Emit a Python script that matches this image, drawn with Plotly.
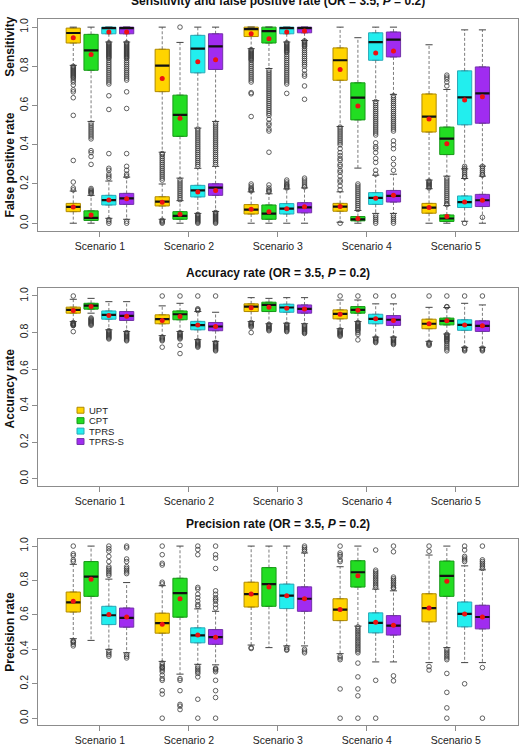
import plotly.graph_objects as go

W, H = 526, 746
FONT = "Liberation Sans, Arial, Helvetica, sans-serif"

methods = ["UPT", "CPT", "TPRS", "TPRS-S"]
scenarios = ["Scenario 1", "Scenario 2", "Scenario 3", "Scenario 4", "Scenario 5"]
fills = ["#FFD400", "#22DD22", "#22EEEE", "#A02CF0"]
borders = ["#B08A00", "#179A17", "#2AAAB8", "#7432AA"]

# ---------------- Sensitivity (rows = methods, cols = scenarios) ----------------
sens_q1 = [[0.919, 0.671, 0.952, 0.729, 0.465], [0.780, 0.443, 0.919, 0.527, 0.350],
           [0.966, 0.767, 0.966, 0.831, 0.502], [0.966, 0.784, 0.971, 0.848, 0.510]]
sens_med = [[0.970, 0.804, 0.990, 0.831, 0.544], [0.881, 0.552, 0.980, 0.640, 0.431],
            [0.995, 0.890, 0.995, 0.924, 0.642], [0.995, 0.902, 0.995, 0.936, 0.662]]
sens_q3 = [[0.995, 0.887, 1.0, 0.894, 0.659], [0.963, 0.653, 1.0, 0.716, 0.490],
           [1.0, 0.958, 1.0, 0.971, 0.777], [1.0, 0.966, 1.0, 0.975, 0.797]]
sens_lo = [[0.805, 0.362, 0.890, 0.493, 0.220], [0.519, 0.230, 0.789, 0.281, 0.240],
           [0.924, 0.485, 0.924, 0.625, 0.277], [0.924, 0.519, 0.932, 0.657, 0.291]]
sens_hi = [[1.0, 1.0, 1.0, 1.0, 0.910], [1.0, 0.922, 1.0, 0.946, 0.682],
           [1.0, 1.0, 1.0, 1.0, 0.986], [1.0, 1.0, 1.0, 1.0, 0.986]]
sens_mean = [[0.946, 0.738, 0.966, 0.784, 0.532], [0.860, 0.535, 0.941, 0.598, 0.405],
             [0.975, 0.823, 0.975, 0.868, 0.628], [0.975, 0.834, 0.980, 0.878, 0.645]]
sens_out = [
    [[0.80, 0.795, 0.79, 0.785, 0.78, 0.775, 0.77, 0.765, 0.76, 0.755, 0.75, 0.745, 0.74, 0.73, 0.72, 0.705, 0.68, 0.67, 0.64, 0.55, 0.32],
     [0.355, 0.35, 0.34, 0.33, 0.32, 0.31, 0.30, 0.29, 0.28, 0.27, 0.26, 0.25, 0.24, 0.23, 0.22],
     [0.885, 0.88, 0.875, 0.87, 0.865, 0.86, 0.855, 0.85, 0.845, 0.84, 0.835, 0.83, 0.82, 0.81, 0.80, 0.79, 0.78, 0.77, 0.76, 0.75, 0.74, 0.73, 0.72, 0.666, 0.66, 0.544],
     [0.49, 0.48, 0.47, 0.46, 0.45, 0.44, 0.43, 0.42, 0.41, 0.40, 0.38, 0.36, 0.345, 0.33, 0.32, 0.30, 0.29, 0.27, 0.26, 0.24, 0.22, 0.21, 0.19, 0.17],
     []],
    [[0.51, 0.50, 0.49, 0.48, 0.47, 0.46, 0.45, 0.44, 0.43, 0.37, 0.36, 0.34, 0.30],
     [1.0],
     [0.78, 0.77, 0.76, 0.75, 0.74, 0.73, 0.72, 0.71, 0.70, 0.69, 0.68, 0.67, 0.66, 0.65, 0.64, 0.63, 0.62, 0.61, 0.60, 0.59, 0.58, 0.57, 0.56, 0.55, 0.53, 0.51, 0.50, 0.48, 0.47, 0.362],
     [],
     [0.70, 0.72, 0.735, 0.745, 0.755]],
    [[0.92, 0.915, 0.91, 0.905, 0.90, 0.895, 0.89, 0.885, 0.88, 0.875, 0.87, 0.865, 0.86, 0.855, 0.85, 0.845, 0.84, 0.83, 0.82, 0.81, 0.80, 0.79, 0.78, 0.77, 0.76, 0.75, 0.74, 0.73, 0.72, 0.71, 0.65, 0.58],
     [0.48, 0.47, 0.46, 0.45, 0.44, 0.43, 0.42, 0.41, 0.40, 0.39, 0.38, 0.37, 0.36, 0.35, 0.34, 0.33, 0.32, 0.31, 0.30, 0.29],
     [0.92, 0.915, 0.91, 0.905, 0.90, 0.895, 0.89, 0.885, 0.88, 0.875, 0.87, 0.86, 0.85, 0.84, 0.83, 0.82, 0.81, 0.80, 0.79, 0.78, 0.77, 0.76, 0.75, 0.74, 0.73, 0.72, 0.71, 0.662],
     [0.62, 0.61, 0.60, 0.59, 0.58, 0.57, 0.56, 0.55, 0.54, 0.53, 0.52, 0.51, 0.50, 0.49, 0.48, 0.47, 0.46, 0.45, 0.41, 0.39, 0.38, 0.36, 0.33, 0.31, 0.27, 0.25],
     []],
    [[0.92, 0.915, 0.91, 0.905, 0.90, 0.895, 0.89, 0.885, 0.88, 0.875, 0.87, 0.865, 0.86, 0.855, 0.85, 0.845, 0.84, 0.83, 0.82, 0.81, 0.80, 0.79, 0.78, 0.77, 0.76, 0.75, 0.74, 0.73, 0.67, 0.585],
     [0.51, 0.50, 0.49, 0.48, 0.47, 0.46, 0.45, 0.44, 0.43, 0.42, 0.41, 0.40, 0.39, 0.38, 0.37, 0.36, 0.35, 0.34, 0.33, 0.32, 0.31, 0.30],
     [0.93, 0.925, 0.92, 0.915, 0.91, 0.905, 0.90, 0.89, 0.88, 0.87, 0.86, 0.85, 0.84, 0.83, 0.82, 0.81, 0.80, 0.78, 0.76, 0.75, 0.70, 0.632],
     [0.65, 0.64, 0.63, 0.62, 0.61, 0.60, 0.59, 0.58, 0.57, 0.56, 0.55, 0.54, 0.53, 0.52, 0.51, 0.50, 0.49, 0.48, 0.47, 0.42, 0.40, 0.38, 0.33, 0.30, 0.27],
     []],
]

# ---------------- False positive rate ----------------
fpr_q1 = [[0.059, 0.088, 0.047, 0.061, 0.051], [0.014, 0.020, 0.020, 0.012, 0.009],
          [0.093, 0.134, 0.047, 0.096, 0.080], [0.096, 0.142, 0.053, 0.108, 0.085]]
fpr_med = [[0.083, 0.110, 0.069, 0.085, 0.080], [0.027, 0.037, 0.049, 0.020, 0.024],
           [0.118, 0.167, 0.074, 0.129, 0.108], [0.127, 0.181, 0.081, 0.139, 0.117]]
fpr_q3 = [[0.101, 0.135, 0.095, 0.101, 0.101], [0.063, 0.059, 0.093, 0.034, 0.042],
          [0.142, 0.193, 0.100, 0.156, 0.139], [0.152, 0.201, 0.105, 0.167, 0.147]]
fpr_lo = [[0.0, 0.020, 0.0, 0.005, 0.0], [0.0, 0.0, 0.0, 0.0, 0.0],
          [0.025, 0.050, 0.0, 0.050, 0.010], [0.020, 0.060, 0.0, 0.050, 0.0]]
fpr_hi = [[0.164, 0.200, 0.160, 0.160, 0.176], [0.142, 0.115, 0.150, 0.065, 0.090],
          [0.215, 0.280, 0.175, 0.245, 0.228], [0.235, 0.290, 0.180, 0.250, 0.240]]
fpr_mean = [[0.083, 0.107, 0.071, 0.085, 0.080], [0.042, 0.046, 0.059, 0.024, 0.034],
            [0.118, 0.159, 0.074, 0.127, 0.108], [0.125, 0.167, 0.084, 0.142, 0.117]]
fpr_out = [
    [[0.17, 0.18, 0.21], [0.0, 0.005, 0.01, 0.015], [0.165, 0.17, 0.175, 0.18, 0.19, 0.20], [0.0],
     [0.18, 0.185, 0.19, 0.195, 0.20, 0.205, 0.21, 0.215]],
    [[0.15, 0.155, 0.16, 0.165, 0.17, 0.177],
     [0.12, 0.13, 0.14, 0.15, 0.16, 0.17, 0.18, 0.19, 0.20, 0.21, 0.22],
     [0.16, 0.165, 0.17, 0.18, 0.195],
     [0.07, 0.08, 0.09, 0.10, 0.11, 0.12, 0.13, 0.14, 0.15, 0.16, 0.17, 0.18, 0.19, 0.20],
     [0.095, 0.10, 0.11, 0.12, 0.13, 0.14, 0.15, 0.16, 0.17, 0.18, 0.19, 0.20, 0.21, 0.22, 0.23]],
    [[0.0, 0.01, 0.018, 0.23, 0.24, 0.25, 0.27, 0.28, 0.355],
     [0.0, 0.005, 0.01, 0.015, 0.02, 0.025, 0.03, 0.035, 0.04, 0.045],
     [0.18, 0.185, 0.19, 0.195, 0.20, 0.21, 0.22],
     [0.0, 0.01, 0.02, 0.03, 0.04],
     [0.0, 0.235, 0.24, 0.25, 0.26, 0.27, 0.28, 0.29]],
    [[0.0, 0.01, 0.24, 0.25, 0.27, 0.29, 0.355],
     [0.0, 0.005, 0.01, 0.015, 0.02, 0.025, 0.03, 0.035, 0.04, 0.045, 0.05, 0.055],
     [0.185, 0.19, 0.20, 0.21, 0.22, 0.23],
     [0.0, 0.01, 0.02, 0.03, 0.04],
     [0.03, 0.245, 0.25, 0.26, 0.27, 0.28, 0.29]],
]

# ---------------- Accuracy ----------------
acc_q1 = [[0.906, 0.848, 0.915, 0.875, 0.821], [0.928, 0.870, 0.915, 0.906, 0.842],
          [0.873, 0.815, 0.911, 0.848, 0.812], [0.866, 0.810, 0.906, 0.839, 0.806]]
acc_med = [[0.924, 0.873, 0.942, 0.902, 0.848], [0.947, 0.900, 0.951, 0.924, 0.864],
           [0.897, 0.841, 0.937, 0.875, 0.842], [0.891, 0.833, 0.929, 0.870, 0.837]]
acc_q3 = [[0.939, 0.897, 0.957, 0.924, 0.873], [0.960, 0.918, 0.966, 0.942, 0.879],
          [0.918, 0.861, 0.955, 0.900, 0.870], [0.915, 0.855, 0.951, 0.893, 0.864]]
acc_lo = [[0.860, 0.783, 0.860, 0.821, 0.752], [0.906, 0.806, 0.848, 0.860, 0.792],
          [0.815, 0.761, 0.851, 0.775, 0.719], [0.806, 0.752, 0.848, 0.775, 0.719]]
acc_hi = [[0.982, 0.946, 0.991, 0.978, 0.938], [0.987, 0.960, 0.987, 0.978, 0.937],
          [0.969, 0.915, 0.991, 0.957, 0.960], [0.969, 0.911, 0.991, 0.957, 0.951]]
acc_mean = [[0.920, 0.866, 0.935, 0.900, 0.848], [0.942, 0.888, 0.938, 0.922, 0.864],
            [0.893, 0.841, 0.933, 0.875, 0.841], [0.889, 0.833, 0.929, 0.866, 0.837]]
acc_out = [
    [[1.0, 0.855, 0.85, 0.848, 0.845, 0.842, 0.84, 0.838, 0.805],
     [1.0, 0.775, 0.77, 0.765, 0.76, 0.755, 0.72],
     [0.855, 0.85, 0.845, 0.84, 0.835, 0.83, 0.80],
     [1.0, 0.815, 0.81, 0.805, 0.80, 0.795, 0.79, 0.785, 0.78],
     [1.0, 0.745, 0.74, 0.735, 0.73]],
    [[0.88, 0.875, 0.87, 0.865, 0.86, 0.855, 0.85, 0.845, 0.84],
     [1.0, 0.80, 0.795, 0.79, 0.785, 0.78, 0.775, 0.77, 0.765, 0.73, 0.685],
     [0.845, 0.84, 0.835, 0.83, 0.825, 0.82, 0.815, 0.81],
     [1.0, 0.855, 0.85, 0.845, 0.84, 0.835, 0.83, 0.825, 0.82, 0.815, 0.81, 0.80, 0.79, 0.76],
     [1.0, 0.942, 0.94, 0.79, 0.785, 0.78, 0.775, 0.77, 0.765, 0.76, 0.755, 0.75, 0.74, 0.73, 0.72, 0.71, 0.70]],
    [[0.81, 0.805, 0.80, 0.795, 0.79, 0.785, 0.78, 0.775, 0.77, 0.765],
     [1.0, 0.93, 0.925, 0.92, 0.755, 0.75, 0.745, 0.74, 0.735, 0.73, 0.725, 0.72],
     [0.845, 0.84, 0.835, 0.83, 0.825, 0.82, 0.815, 0.81, 0.805],
     [1.0, 0.77, 0.765, 0.76, 0.755, 0.75, 0.745],
     [1.0, 0.715, 0.71, 0.705, 0.70]],
    [[0.80, 0.795, 0.79, 0.785, 0.78, 0.775, 0.77, 0.765, 0.76, 0.755],
     [1.0, 0.745, 0.74, 0.735, 0.73, 0.725, 0.72, 0.715, 0.71, 0.705, 0.70],
     [0.84, 0.835, 0.83, 0.825, 0.82, 0.815, 0.81, 0.805, 0.80, 0.795],
     [1.0, 0.77, 0.765, 0.76, 0.755, 0.75, 0.745, 0.74, 0.735],
     [1.0, 0.715, 0.71, 0.705, 0.70]],
]

# ---------------- Precision ----------------
prec_q1 = [[0.617, 0.494, 0.646, 0.567, 0.560], [0.708, 0.587, 0.650, 0.762, 0.708],
           [0.544, 0.438, 0.637, 0.496, 0.531], [0.529, 0.429, 0.621, 0.483, 0.519]]
prec_med = [[0.673, 0.552, 0.721, 0.631, 0.640], [0.823, 0.727, 0.779, 0.848, 0.827],
            [0.598, 0.481, 0.712, 0.554, 0.606], [0.583, 0.471, 0.694, 0.538, 0.588]]
prec_q3 = [[0.733, 0.610, 0.790, 0.694, 0.723], [0.910, 0.813, 0.875, 0.915, 0.913],
           [0.650, 0.525, 0.779, 0.612, 0.675], [0.640, 0.515, 0.763, 0.596, 0.656]]
prec_lo = [[0.462, 0.330, 0.425, 0.375, 0.323], [0.452, 0.256, 0.410, 0.535, 0.410],
           [0.400, 0.313, 0.420, 0.327, 0.323], [0.380, 0.310, 0.420, 0.327, 0.323]]
prec_hi = [[0.894, 0.770, 1.0, 0.880, 0.948], [1.0, 1.0, 1.0, 1.0, 1.0],
           [0.808, 0.635, 1.0, 0.750, 0.885], [0.788, 0.621, 0.960, 0.740, 0.862]]
prec_mean = [[0.679, 0.546, 0.721, 0.631, 0.640], [0.808, 0.694, 0.762, 0.827, 0.796],
             [0.602, 0.483, 0.712, 0.558, 0.606], [0.588, 0.471, 0.694, 0.540, 0.588]]
prec_out = [
    [[1.0, 0.955, 0.945, 0.92, 0.91, 0.45, 0.445, 0.44, 0.43, 0.42],
     [1.0, 0.95, 0.90, 0.89, 0.79, 0.78, 0.32, 0.31, 0.30, 0.295, 0.29, 0.28, 0.27, 0.25, 0.23, 0.22, 0.16, 0.14, 0.0],
     [0.41, 0.405],
     [1.0, 0.96, 0.95, 0.94, 0.92, 0.91, 0.36, 0.35, 0.34, 0.17, 0.0],
     [1.0, 0.97, 0.30, 0.28]],
    [[],
     [0.23, 0.22, 0.16, 0.08, 0.07, 0.05],
     [],
     [0.53, 0.52, 0.51, 0.50, 0.49, 0.48, 0.47, 0.46, 0.45, 0.44, 0.43, 0.42, 0.41, 0.40, 0.39, 0.38, 0.32, 0.24, 0.17, 0.13, 0.0],
     [0.40, 0.39, 0.38, 0.37, 0.36, 0.35, 0.34, 0.26, 0.15, 0.06, 0.0]],
    [[1.0, 0.985, 0.97, 0.94, 0.91, 0.88, 0.87, 0.86, 0.85, 0.84, 0.83, 0.39, 0.38, 0.37, 0.36],
     [1.0, 0.98, 0.95, 0.76, 0.75, 0.72, 0.70, 0.68, 0.66, 0.65, 0.30, 0.29, 0.28, 0.27, 0.26, 0.24, 0.11, 0.0],
     [0.41, 0.40, 0.395],
     [0.977, 0.86, 0.85, 0.84, 0.83, 0.82, 0.81, 0.80, 0.79, 0.78, 0.77, 0.76, 0.22, 0.0],
     [1.0, 0.977, 0.94, 0.93, 0.92, 0.91, 0.20]],
    [[1.0, 0.99, 0.925, 0.91, 0.88, 0.87, 0.86, 0.85, 0.84, 0.37, 0.36, 0.35],
     [1.0, 0.95, 0.93, 0.87, 0.74, 0.72, 0.70, 0.69, 0.68, 0.66, 0.64, 0.29, 0.285, 0.28, 0.27, 0.22, 0.16, 0.12, 0.0],
     [1.0, 0.99, 0.98, 0.97, 0.40, 0.39, 0.38],
     [1.0, 0.967, 0.82, 0.81, 0.80, 0.79, 0.78, 0.77, 0.76, 0.755, 0.246, 0.217],
     [1.0, 0.92, 0.91, 0.90, 0.89, 0.88, 0.87, 0.294, 0.0]],
]

# ---------------- geometry ----------------
def px_y(p):
    return 1 - p / H

xdom = [37.7 / W, 518.0 / W]
ydoms = [[px_y(230.7), px_y(17.0)], [px_y(487.7), px_y(287.7)], [px_y(728.3), px_y(541.0)]]
yranges = [[-0.0405, 1.042], [-0.042, 1.045], [-0.042, 1.039]]
xrange_ = [-1.0, 26.0]
centers = [2.5 + 5 * g for g in range(5)]

fig = go.Figure()


def add_metric(xa, ya, q1, med, q3, lo, hi, outs):
    for m in range(4):
        pos = [1 + 5 * g + m for g in range(5)]
        wx, wy, cx, cy, mx, my, ox, oy = [], [], [], [], [], [], [], []
        for g in range(5):
            p = pos[g]
            wx += [p, p, None, p, p, None]
            wy += [q3[m][g], hi[m][g], None, q1[m][g], lo[m][g], None]
            cx += [p - 0.2, p + 0.2, None, p - 0.2, p + 0.2, None]
            cy += [hi[m][g], hi[m][g], None, lo[m][g], lo[m][g], None]
            mx += [p - 0.4, p + 0.4, None]
            my += [med[m][g], med[m][g], None]
            ox += [p] * len(outs[m][g])
            oy += outs[m][g]
        fig.add_trace(go.Scatter(x=wx, y=wy, mode="lines", xaxis=xa, yaxis=ya,
                                 line=dict(color="#5a5a5a", width=0.8, dash="3px,2px"),
                                 hoverinfo="skip", showlegend=False))
        fig.add_trace(go.Scatter(x=cx, y=cy, mode="lines", xaxis=xa, yaxis=ya,
                                 line=dict(color="#444", width=1),
                                 hoverinfo="skip", showlegend=False))
        fig.add_trace(go.Box(x=pos, q1=q1[m], median=med[m], q3=q3[m],
                             lowerfence=q1[m], upperfence=q3[m], width=0.8,
                             fillcolor=fills[m], line=dict(color=borders[m], width=1),
                             boxpoints=False, xaxis=xa, yaxis=ya,
                             hoverinfo="skip", showlegend=False))
        fig.add_trace(go.Scatter(x=mx, y=my, mode="lines", xaxis=xa, yaxis=ya,
                                 line=dict(color="#111", width=2.2),
                                 hoverinfo="skip", showlegend=False))
        fig.add_trace(go.Scatter(x=ox, y=oy, mode="markers", xaxis=xa, yaxis=ya,
                                 marker=dict(symbol="circle-open", size=4.6, color="#3a3a3a",
                                             line=dict(width=0.8, color="#3a3a3a")),
                                 hoverinfo="skip", showlegend=False))


def add_means(xa, ya, mean):
    for m in range(4):
        pos = [1 + 5 * g + m for g in range(5)]
        fig.add_trace(go.Scatter(x=pos, y=mean[m], mode="markers", xaxis=xa, yaxis=ya,
                                 marker=dict(size=5, color="#EE1111"),
                                 hoverinfo="skip", showlegend=False))


add_metric("x", "y", sens_q1, sens_med, sens_q3, sens_lo, sens_hi, sens_out)
add_metric("x", "y", fpr_q1, fpr_med, fpr_q3, fpr_lo, fpr_hi, fpr_out)
add_means("x", "y", sens_mean)
add_means("x", "y", fpr_mean)
add_metric("x2", "y2", acc_q1, acc_med, acc_q3, acc_lo, acc_hi, acc_out)
add_means("x2", "y2", acc_mean)
add_metric("x3", "y3", prec_q1, prec_med, prec_q3, prec_lo, prec_hi, prec_out)
add_means("x3", "y3", prec_mean)

axis_common = dict(showline=True, mirror=True, linecolor="#8c8c8c", linewidth=1,
                   showgrid=False, zeroline=False, ticks="outside", ticklen=5,
                   tickcolor="#8c8c8c", tickfont=dict(family=FONT, size=10.5, color="#222"))

layout = dict(width=W, height=H, margin=dict(l=0, r=0, t=0, b=0),
              paper_bgcolor="white", plot_bgcolor="white", boxmode="overlay",
              showlegend=False)
for i in range(3):
    sfx = "" if i == 0 else str(i + 1)
    layout["xaxis" + sfx] = dict(domain=xdom, range=xrange_, anchor="y" + sfx,
                                 tickvals=centers, ticktext=scenarios, **axis_common)
    layout["yaxis" + sfx] = dict(domain=ydoms[i], range=yranges[i], anchor="x" + sfx,
                                 tickvals=[0, 0.2, 0.4, 0.6, 0.8, 1.0],
                                 ticktext=["0.0", "0.2", "0.4", "0.6", "0.8", "1.0"],
                                 tickangle=-90, **axis_common)
fig.update_layout(**layout)

title_font = dict(family=FONT, size=12, color="#111")
ann = []
xc = (37.7 + 518.0) / 2 / W
ann.append(dict(text="<b>Sensitivity and false positive rate (OR = 3.5, <i>P</i> = 0.2)</b>",
                x=xc, y=px_y(-1), xref="paper", yref="paper", showarrow=False,
                xanchor="center", yanchor="middle", font=title_font))
ann.append(dict(text="<b>Accuracy rate (OR = 3.5, <i>P</i> = 0.2)</b>",
                x=xc, y=px_y(273), xref="paper", yref="paper", showarrow=False,
                xanchor="center", yanchor="middle", font=title_font))
ann.append(dict(text="<b>Precision rate (OR = 3.5, <i>P</i> = 0.2)</b>",
                x=xc, y=px_y(526), xref="paper", yref="paper", showarrow=False,
                xanchor="center", yanchor="middle", font=title_font))
for txt, yp in [("Sensitivity", 45), ("False positive rate", 164.5),
                ("Accuracy rate", 389), ("Precision rate", 634)]:
    ann.append(dict(text="<b>" + txt + "</b>", x=10 / W, y=px_y(yp), xref="paper",
                    yref="paper", showarrow=False, textangle=-90,
                    xanchor="center", yanchor="middle", font=title_font))

# legend (panel 2)
shapes = []
leg_y = [411, 421.5, 432, 442.5]
for m in range(4):
    shapes.append(dict(type="rect", xref="paper", yref="paper",
                       x0=77 / W, x1=84 / W, y0=px_y(leg_y[m] + 3), y1=px_y(leg_y[m] - 3),
                       fillcolor=fills[m], line=dict(color=borders[m], width=1)))
    ann.append(dict(text=methods[m], x=87 / W, y=px_y(leg_y[m]), xref="paper", yref="paper",
                    showarrow=False, xanchor="left", yanchor="middle",
                    font=dict(family=FONT, size=9.5, color="#222")))
fig.update_layout(annotations=ann, shapes=shapes)

fig.write_html("out.html")
